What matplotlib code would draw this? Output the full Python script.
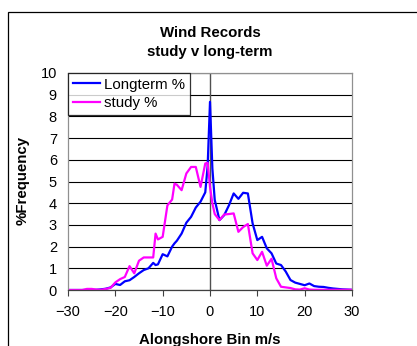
import numpy as np
import matplotlib.pyplot as plt
from matplotlib.patches import Rectangle

plt.rcParams['font.family'] = ['Liberation Sans', 'DejaVu Sans']

# bins (m/s) and frequencies
bins = [-30, -29, -28, -27, -26, -25, -24, -23, -22, -21, -20, -19, -18, -17, -16,
        -15, -14, -13, -12, -11.5, -11, -10, -9, -8, -7.5, -7, -6, -5, -4, -3, -2,
        -1, -0.5, 0, 0.5, 1, 2, 3, 4, 5, 6, 7, 8, 9, 10, 11, 12, 13, 14, 15, 16,
        17, 18, 19, 20, 21, 22, 23, 24, 25, 26, 27, 28, 29, 30]

longterm = [0, 0, 0, 0, 0, 0, 0.01, 0.03, 0.06, 0.12, 0.28, 0.23, 0.40, 0.45, 0.60,
            0.77, 0.92, 1.00, 1.25, 1.15, 1.18, 1.65, 1.55, 2.00, 2.15, 2.27, 2.60,
            3.10, 3.37, 3.80, 4.07, 4.50, 5.70, 8.67, 5.60, 4.15, 3.22, 3.45, 3.90,
            4.45, 4.20, 4.48, 4.45, 3.07, 2.30, 2.45, 1.92, 1.69, 1.22, 1.15, 0.85,
            0.46, 0.34, 0.28, 0.22, 0.30, 0.18, 0.15, 0.14, 0.10, 0.07, 0.05, 0.03,
            0.02, 0.01]

study = [0, 0, 0, 0, 0.05, 0.05, 0.02, 0.01, 0.05, 0.10, 0.35, 0.50, 0.60, 1.10,
         0.77, 1.35, 1.50, 1.50, 1.50, 2.60, 2.33, 2.45, 3.90, 4.17, 4.90, 4.85,
         4.60, 5.37, 5.67, 5.67, 4.75, 5.83, 5.86, 4.75, 4.00, 3.50, 3.22, 3.48,
         3.50, 3.53, 2.68, 2.90, 3.04, 1.69, 1.38, 1.76, 1.12, 1.44, 0.54, 0.15,
         0.12, 0.09, 0.03, 0.02, 0.08, 0.02, 0.01, 0.01, 0.01, 0.01, 0.01, 0.01,
         0.01, 0.01, 0.01]

fig = plt.figure(figsize=(4.17, 3.46), dpi=100)
W, H = 417, 346

# outer chart frame
fig.patches.append(Rectangle((8 / W, -0.1), 1.2, (H - 12) / H + 0.1,
                             transform=fig.transFigure, fill=False,
                             edgecolor='black', linewidth=0.9))

ax = fig.add_axes([68 / W, 1 - 290 / H, (352 - 68) / W, (290 - 73) / H])
ax.plot(bins, longterm, color='#0000FF', linewidth=1.6, label='Longterm %')
ax.plot(bins, study, color='#FF00FF', linewidth=1.6, label='study %')

ax.set_xlim(-30, 30)
ax.set_ylim(0, 10)
ax.set_xticks(range(-30, 31, 10))
ax.set_yticks(range(0, 11))
ax.yaxis.grid(True, color='black', linewidth=0.8)
ax.set_axisbelow(True)
ax.axvline(0, color='#505050', linewidth=1.0, zorder=1)
for s in ax.spines.values():
    s.set_color('#909090')
    s.set_linewidth(0.9)
ax.spines['bottom'].set_color('#404040')
ax.tick_params(axis='y', length=0, pad=8, labelsize=10.5)
ax.tick_params(axis='x', length=4, pad=7, labelsize=10.5, color='#404040')

ax.set_xlabel('Alongshore Bin m/s', fontsize=10.8, fontweight='bold', labelpad=10)
ax.set_ylabel('%Frequency', fontsize=10.8, fontweight='bold')
ax.yaxis.set_label_coords(-0.135, 0.507)
ax.set_title('Wind Records\nstudy v long-term', fontsize=10.8, fontweight='bold',
             pad=12, linespacing=1.5)

leg = ax.legend(loc='upper left', bbox_to_anchor=(0, 1), fontsize=10.8,
                frameon=True, fancybox=False, borderaxespad=0, handlelength=1.8,
                handletextpad=0.3, borderpad=0.3, labelspacing=0.3)
leg.get_frame().set_edgecolor('black')
leg.get_frame().set_linewidth(0.9)

fig.savefig('out.png', dpi=100)
